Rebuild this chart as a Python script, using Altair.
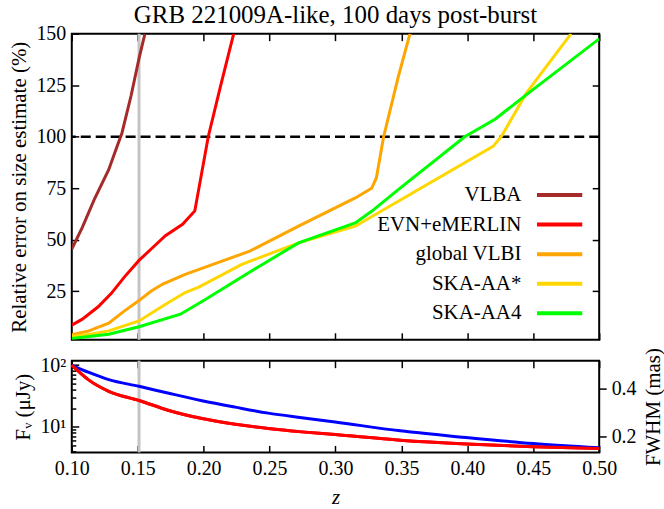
import altair as alt
import pandas as pd

# ---------------- data ----------------
series_names = ["VLBA", "EVN+eMERLIN", "global VLBI", "SKA-AA*", "SKA-AA4"]
series_colors = ["#a52a2a", "#ff0000", "#ffa500", "#ffd700", "#00ff00"]

vlba_z = [0.100, 0.108, 0.117, 0.128, 0.135, 0.138, 0.145, 0.151, 0.1555]
vlba_err = [45.5, 56.0, 69.5, 84.0, 96.5, 101.7, 120.0, 138.0, 150.0]

evn_z = [0.100, 0.108, 0.120, 0.130, 0.140, 0.151, 0.161, 0.171, 0.184, 0.1933, 0.2035, 0.213, 0.2228]
evn_err = [8.6, 11.5, 17.5, 24.0, 32.0, 40.0, 46.0, 52.0, 57.5, 64.0, 100.0, 125.0, 150.0]

gvlbi_z = [0.100, 0.113, 0.128, 0.140, 0.151, 0.160, 0.169, 0.186, 0.2013, 0.235, 0.272, 0.315,
           0.3274, 0.331, 0.3365, 0.3476, 0.3565]
gvlbi_err = [4.0, 5.8, 9.5, 15.5, 20.5, 25.0, 28.5, 33.2, 36.7, 44.5, 56.6, 70.3,
             75.0, 80.0, 100.0, 129.0, 150.0]

skaaa_z = [0.100, 0.115, 0.128, 0.151, 0.169, 0.186, 0.1963, 0.229, 0.272, 0.315, 0.3476,
           0.4195, 0.4257, 0.4446, 0.4787]
skaaa_err = [3.1, 4.3, 5.8, 10.6, 17.9, 24.4, 27.0, 38.1, 48.5, 56.6, 68.7,
             95.3, 100.0, 121.0, 150.0]

ska4_z = [0.100, 0.128, 0.151, 0.1824, 0.2013, 0.224, 0.2468, 0.272, 0.315, 0.3274, 0.3476,
          0.398, 0.421, 0.450, 0.500]
ska4_err = [2.1, 4.2, 7.8, 13.9, 21.0, 30.0, 38.9, 48.5, 58.2, 63.8, 74.3,
            100.0, 108.5, 123.0, 147.5]

threshold = [100]
z_marker = [0.151]

bottom_z = [0.100, 0.113, 0.128, 0.151, 0.1736, 0.1988, 0.224, 0.249, 0.2744, 0.2997,
            0.349, 0.399, 0.450, 0.500]
flux_ujy = [100, 57, 37.5, 26.6, 18.3, 13.5, 10.9, 9.3, 8.2, 7.4, 6.0, 5.2, 4.7, 4.4]
fwhm_mas = [0.498, 0.468, 0.438, 0.410, 0.381, 0.350, 0.323, 0.298, 0.279, 0.261,
            0.224, 0.196, 0.171, 0.153]

x_ticks = [0.10, 0.15, 0.20, 0.25, 0.30, 0.35, 0.40, 0.45, 0.50]
err_ticks = [25, 50, 75, 100, 125, 150]
flux_major = [10, 100]
flux_minor = [4, 5, 6, 7, 8, 9, 20, 30, 40, 50, 60, 70, 80, 90]
fwhm_ticks = [0.2, 0.4]

# ---------------- tables ----------------
rows = []
for name, zs, es in [("VLBA", vlba_z, vlba_err), ("EVN+eMERLIN", evn_z, evn_err),
                     ("global VLBI", gvlbi_z, gvlbi_err), ("SKA-AA*", skaaa_z, skaaa_err),
                     ("SKA-AA4", ska4_z, ska4_err)]:
    for zz, ee in zip(zs, es):
        rows.append({"series": name, "z": zz, "err": ee})
df_err = pd.DataFrame(rows)
df_thr = pd.DataFrame({"y": threshold})
df_zm = pd.DataFrame({"z": z_marker})
df_bot = pd.DataFrame({"z": bottom_z, "flux": flux_ujy, "fwhm": fwhm_mas})
df_leg = pd.DataFrame({"series": series_names})

FONT = "Liberation Serif"
W = 529
xscale = alt.Scale(domain=[0.1, 0.5], nice=False, zero=False)
yscale_top = alt.Scale(domain=[1.5, 150], nice=False, zero=False)
color_scale = alt.Scale(domain=series_names, range=series_colors)
# legend rows placed inside the plot (pixel range of the legend's own point scale)
legend_rows = alt.Scale(type="point", domain=series_names, range=[161.8, 280.5], padding=0)


def mirror_axis(orient, values, size=7):
    return alt.Axis(orient=orient, values=values, labels=False, title=None, offset=-size,
                    tickSize=size, domain=False, minExtent=0, maxExtent=0)


# ---------------- top panel ----------------
vline_top = alt.Chart(df_zm).mark_rule(color="#c4c4c4", strokeWidth=3).encode(
    x=alt.X("z:Q", scale=xscale, axis=mirror_axis("top", x_ticks))
)
hline = alt.Chart(df_thr).mark_rule(color="black", strokeWidth=2.5, strokeDash=[10, 5]).encode(
    y=alt.Y("y:Q", scale=yscale_top, axis=mirror_axis("right", err_ticks))
)
lines = alt.Chart(df_err).mark_line(strokeWidth=3, clip=True).encode(
    x=alt.X("z:Q", scale=xscale, axis=mirror_axis("bottom", x_ticks)),
    y=alt.Y("err:Q", scale=yscale_top,
            axis=alt.Axis(orient="left", values=err_ticks, title="Relative error on size estimate (%)",
                          offset=-7, tickSize=7, domain=False, labelPadding=6, titlePadding=6)),
    color=alt.Color("series:N", scale=color_scale, legend=None),
)
leg_text = alt.Chart(df_leg).mark_text(align="right", baseline="middle", fontSize=21, font=FONT,
                                       color="black").encode(
    x=alt.value(451),
    y=alt.Y("series:N", scale=legend_rows, axis=None),
    text="series:N",
)
leg_line = alt.Chart(df_leg).mark_rule(strokeWidth=4).encode(
    x=alt.value(466.6), x2=alt.value(512),
    y=alt.Y("series:N", scale=legend_rows, axis=None),
    color=alt.Color("series:N", scale=color_scale, legend=None),
)
top = alt.layer(vline_top, hline, lines, leg_text, leg_line).resolve_scale(
    y="independent").resolve_axis(x="independent", y="independent").properties(
    width=W, height=307,
    title=alt.TitleParams("GRB 221009A-like, 100 days post-burst", fontSize=25, font=FONT,
                          fontWeight="normal", anchor="middle", frame="group", offset=-4, color="black"),
)

# ---------------- bottom panel ----------------
flux_scale = alt.Scale(type="log", domain=[3.8, 118], nice=False)
vline_bot = alt.Chart(df_zm).mark_rule(color="#c4c4c4", strokeWidth=3).encode(
    x=alt.X("z:Q", scale=xscale, axis=mirror_axis("top", x_ticks))
)
flux_line = alt.Chart(df_bot).mark_line(color="#ff0000", strokeWidth=3, interpolate="monotone").encode(
    x=alt.X("z:Q", scale=xscale,
            axis=alt.Axis(orient="bottom", values=x_ticks, format=".2f", title="z",
                          titleFontStyle="italic", offset=-7, tickSize=7, domain=False,
                          labelPadding=6, titlePadding=8, labelFlush=False)),
    y=alt.Y("flux:Q", scale=flux_scale,
            axis=alt.Axis(orient="left", values=flux_major, title="Fᵥ (μJy)",
                          labelExpr="datum.value >= 100 ? '10²' : '10¹'",
                          offset=-7, tickSize=7, domain=False, labelPadding=6, titlePadding=6)),
)
flux_minor_layer = alt.Chart(df_bot).mark_line(color="#ff0000", strokeWidth=3, interpolate="monotone").encode(
    x=alt.X("z:Q", scale=xscale, axis=None),
    y=alt.Y("flux:Q", scale=flux_scale, axis=mirror_axis("left", flux_minor, 4)),
)
fwhm_line = alt.Chart(df_bot).mark_line(color="#0000ff", strokeWidth=3, interpolate="monotone").encode(
    x=alt.X("z:Q", scale=xscale, axis=None),
    y=alt.Y("fwhm:Q", scale=alt.Scale(domain=[0.134, 0.517], nice=False, zero=False),
            axis=alt.Axis(orient="right", values=fwhm_ticks, format=".1f", title="FWHM (mas)",
                          titleAngle=270, titleBaseline="top", tickSize=7, domain=False,
                          labelPadding=5, titlePadding=6)),
)
bottom = alt.layer(vline_bot, flux_minor_layer, fwhm_line, flux_line).resolve_scale(
    y="independent").resolve_axis(x="independent", y="independent").properties(width=W, height=92)

chart = alt.vconcat(top, bottom, spacing=3).properties(
    padding={"left": 8, "top": 1, "right": 0, "bottom": 2},
    background="white",
).configure(font=FONT).configure_view(stroke="black", strokeWidth=2).configure_axis(
    labelFont=FONT, titleFont=FONT, labelFontSize=20, titleFontSize=21, titleFontWeight="normal",
    labelColor="black", titleColor="black", tickColor="black", tickWidth=1.5, grid=False,
)

chart.save("out.html", embed_options={"renderer": "svg", "actions": False})
